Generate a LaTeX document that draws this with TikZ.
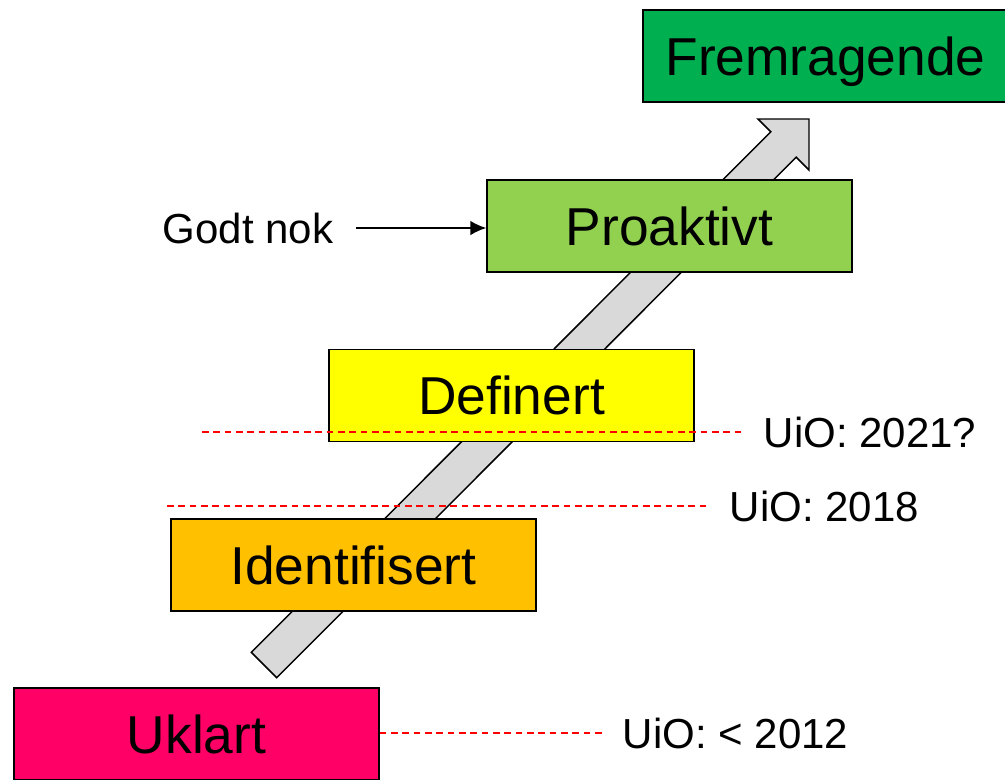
\documentclass[tikz,border=0pt]{standalone}
\usepackage{fontspec}
\setmainfont{Liberation Sans}
\usetikzlibrary{arrows.meta}
\definecolor{cFrem}{HTML}{00B050}
\definecolor{cPro}{HTML}{92D050}
\definecolor{cDef}{HTML}{FFFF00}
\definecolor{cIde}{HTML}{FFC000}
\definecolor{cUkl}{HTML}{FF0066}
\definecolor{cArrow}{HTML}{D9D9D9}
\tikzset{
  level/.style={draw=black, line width=1.1pt, minimum width=273.75pt, minimum height=69pt,
    inner sep=0pt, text height=28.6pt, text depth=0pt,
    font=\fontsize{40}{48}\selectfont},
  lbl/.style={inner ysep=0pt, inner xsep=15.5pt, anchor=west, text height=22.5pt, text depth=0pt,
    font=\fontsize{31.5}{38}\selectfont},
  mark line/.style={draw=red, line width=1.1pt, dash pattern=on 5pt off 3.5pt},
}
\begin{document}
\begin{tikzpicture}[x=0.75pt, y=-0.75pt]
\useasboundingbox (0,0) rectangle (1005,779);
\clip (0,0) rectangle (1005,779);
\fill[white] (0,0) rectangle (1005,779);
% big gray arrow
\draw[fill=cArrow, draw=black, line width=1.1pt, line join=miter]
  (251.3,652.3) -- (770.8,131.8) -- (758,119) -- (809,119) -- (809,170)
  -- (796.2,157.2) -- (276.7,677.7) -- cycle;
% levels
\node[level, fill=cFrem] (frem) at (825.5,56) {Fremragende};
\node[level, fill=cPro] (pro) at (669.5,226) {Proaktivt};
\node[level, fill=cDef] (def) at (511.5,395.5) {Definert};
\node[level, fill=cIde] (ide) at (353.5,565) {Identifisert};
\node[level, fill=cUkl] (ukl) at (196.5,734) {Uklart};
% dashed markers
\coordinate (m21) at (202,432);
\coordinate (m18) at (167,506);
\node[lbl] (u21) at (743,432) {UiO: 2021?};
\node[lbl] (u18) at (709,506) {UiO: 2018};
\node[lbl] (u12) at (602,733) {UiO: < 2012};
\draw[mark line] (m21) -- (u21.west);
\draw[mark line] (m18) -- (u18.west);
\draw[mark line] (ukl.east |- u12.west) -- (u12.west);
% Godt nok
\node[lbl, anchor=east, inner xsep=17pt] (godt) at (356,228) {Godt nok};
\draw[line width=1.2pt, -{Latex[length=12pt, width=11pt]}] (godt.east) -- (pro.west |- godt.east);
\end{tikzpicture}
\end{document}
